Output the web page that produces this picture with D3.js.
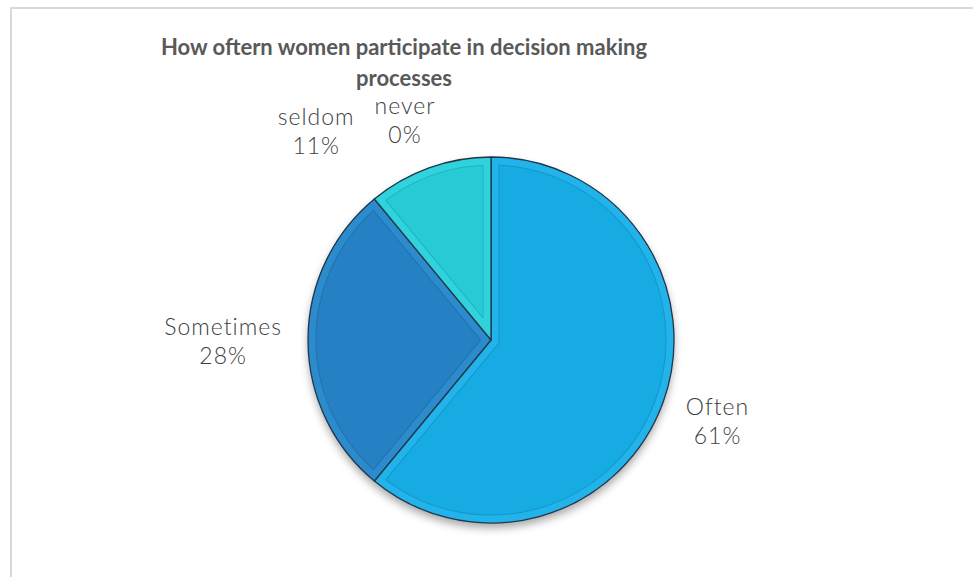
<!DOCTYPE html>
<html lang="en">
<head>
    <meta charset="UTF-8">
    <title>Decision making pie</title>
    <style>
        body { margin: 0; background: #fff; }
        text { font-family: "Lato", "Noto Sans", sans-serif; }
    </style>
</head>
<body>
<script src="https://d3js.org/d3.v7.min.js"></script>
<script>
    // data
    var categories = ["Often", "Sometimes", "seldom", "never"];
    var shares = [61, 28, 11, 0];
    var sliceColors = ["#17abe3", "#2581c4", "#26cbd6", "#1d9bd0"];
    var bandColors = ["#22b3ea", "#2b8bcd", "#2fd3dd", "#2aa6da"];
    var titleLines = ["How oftern women participate in decision making", "processes"];

    var width = 973, height = 577;
    var cx = 491, cy = 340, r = 183;

    // label nudges (excel moved the two small top labels to the left)
    var labelNudge = { "seldom": [-91, 14], "never": [-86, 17] };

    var svg = d3.select("body")
        .append("svg")
        .attr("width", width)
        .attr("height", height);

    // frame
    svg.append("rect")
        .attr("x", 11).attr("y", 8)
        .attr("width", 975).attr("height", 600)
        .style("fill", "#fff")
        .style("stroke", "#d9d9d9")
        .style("stroke-width", 2);

    var defs = svg.append("defs");
    var f = defs.append("filter").attr("id", "shadow")
        .attr("x", "-20%").attr("y", "-20%").attr("width", "140%").attr("height", "140%");
    f.append("feDropShadow")
        .attr("dx", 0).attr("dy", 5)
        .attr("stdDeviation", 4)
        .attr("flood-color", "#000")
        .attr("flood-opacity", 0.35);

    // title
    svg.append("text")
        .attr("x", 404)
        .attr("text-anchor", "middle")
        .style("font-size", "22px")
        .style("font-weight", "bold")
        .style("fill", "#595959")
        .selectAll("tspan")
        .data(titleLines)
        .enter()
        .append("tspan")
        .attr("x", 404)
        .attr("y", function (d, i) { return 55 + i * 31; })
        .text(function (d) { return d; });

    var pie = d3.pie().sort(null).value(function (d) { return d; });
    var arcs = pie(shares);
    var arc = d3.arc().innerRadius(0).outerRadius(r);

    var g = svg.append("g")
        .attr("transform", "translate(" + cx + "," + cy + ")");

    var slices = g.append("g").attr("filter", "url(#shadow)");

    arcs.forEach(function (d, i) {
        if (d.endAngle - d.startAngle <= 0) return;
        var id = "clip" + i;
        defs.append("clipPath").attr("id", id)
            .append("path").attr("d", arc(d))
            .attr("transform", "translate(" + cx + "," + cy + ")");
    });

    var sg = g.append("g");
    arcs.forEach(function (d, i) {
        if (d.endAngle - d.startAngle <= 0) return;
        var s = sg.append("g");
        s.append("path")
            .attr("d", arc(d))
            .style("fill", sliceColors[i]);
        var inner = s.append("g")
            .attr("clip-path", "url(#clip" + i + ")")
            .attr("transform", "translate(" + (-cx) + "," + (-cy) + ")")
            .append("g")
            .attr("transform", "translate(" + cx + "," + cy + ")");
        inner.append("path")
            .attr("d", arc(d))
            .style("fill", "none")
            .style("stroke", d3.color(sliceColors[i]).darker(0.35))
            .style("stroke-width", 17);
        inner.append("path")
            .attr("d", arc(d))
            .style("fill", "none")
            .style("stroke", bandColors[i])
            .style("stroke-width", 15);
        s.append("path")
            .attr("d", arc(d))
            .style("fill", "none")
            .style("stroke", "#24384c")
            .style("stroke-width", 1.3)
            .style("stroke-linejoin", "round");
    });

    // shadow only under the whole disc
    slices.append("circle").attr("r", r).style("fill", "#1a8fc4");
    slices.lower();

    // data labels
    var gap = 26;
    var labels = svg.append("g");
    arcs.forEach(function (d, i) {
        var a = (d.startAngle + d.endAngle) / 2;
        var t = labels.append("text")
            .attr("text-anchor", "middle")
            .style("font-size", "23px")
            .style("font-weight", 300)
            .style("letter-spacing", "1px")
            .style("fill", "#404040");
        t.append("tspan").attr("x", 0).attr("dy", 0).text(categories[i]);
        t.append("tspan").attr("x", 0).attr("dy", 29).text(shares[i] + "%");
        var bb = t.node().getBBox();
        var px = cx + (r + gap) * Math.sin(a) + Math.sin(a) * bb.width / 2;
        var py = cy - (r + gap) * Math.cos(a) - Math.cos(a) * bb.height / 2;
        var n = labelNudge[categories[i]] || [0, 0];
        px += n[0];
        py += n[1];
        // centre the box on (px, py)
        var ox = px - (bb.x + bb.width / 2);
        var oy = py - (bb.y + bb.height / 2);
        t.attr("transform", "translate(" + ox + "," + oy + ")");
    });
</script>
</body>
</html>
